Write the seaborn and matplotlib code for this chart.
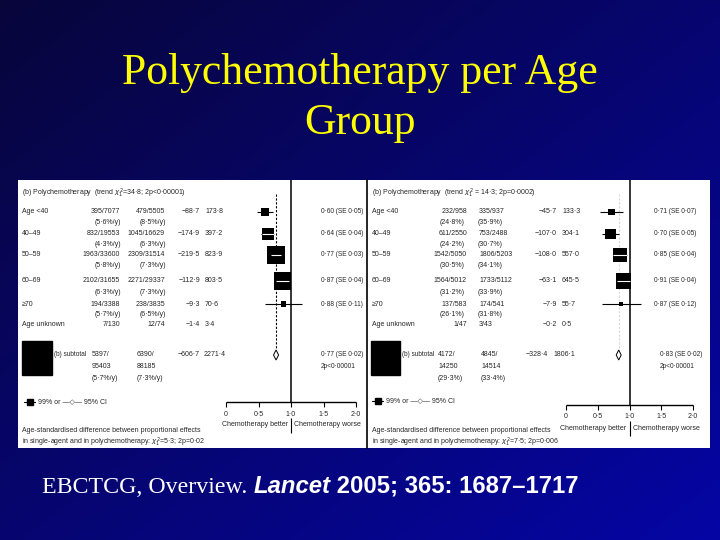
import numpy as np
import matplotlib
matplotlib.use("Agg")
import matplotlib.pyplot as plt
import matplotlib.transforms as mtrans
from matplotlib.patches import Rectangle
import seaborn as sns

sns.set_style("white")
plt.rcParams["font.family"] = ["Liberation Sans", "DejaVu Sans"]

# ---- data ----
groups = ["Age <40", "40–49", "50–59", "60–69", "≥70", "Age unknown"]

# (left) recurrence
rec_header = r"(b) Polychemotherapy  (trend $\chi^2_1$=34·8; 2p<0·00001)"
rec_treat = ["395/7077", "832/19553", "1963/33600", "2102/31655", "194/3388", "7/130"]
rec_treat_rate = ["(5·6%/y)", "(4·3%/y)", "(5·8%/y)", "(6·3%/y)", "(5·7%/y)", ""]
rec_ctrl = ["479/5505", "1045/16629", "2309/31514", "2271/29337", "238/3835", "12/74"]
rec_ctrl_rate = ["(8·5%/y)", "(6·3%/y)", "(7·3%/y)", "(7·3%/y)", "(6·5%/y)", ""]
rec_oe = ["−88·7", "−174·9", "−219·5", "−112·9", "−9·3", "−1·4"]
rec_var = [173.8, 397.2, 823.9, 803.5, 70.6, 3.4]
rec_ratio = [0.60, 0.64, 0.77, 0.87, 0.88]
rec_se = [0.05, 0.04, 0.03, 0.04, 0.11]
rec_sub = ["5397/", "95403", "(5·7%/y)", "6390/", "88185", "(7·3%/y)", "−606·7", "2271·4"]
rec_sub_ratio, rec_sub_se = 0.77, 0.02
rec_sub_p = "2p<0·00001"
rec_foot = r"in single-agent and in polychemotherapy: $\chi^2_1$=5·3; 2p=0·02"

# (right) breast cancer mortality
mort_header = r"(b) Polychemotherapy  (trend $\chi^2_1$ = 14·3; 2p=0·0002)"
mort_treat = ["232/958", "611/2550", "1542/5050", "1564/5012", "137/583", "1/47"]
mort_treat_rate = ["(24·8%)", "(24·2%)", "(30·5%)", "(31·2%)", "(26·1%)", ""]
mort_ctrl = ["335/937", "753/2488", "1806/5203", "1733/5112", "174/541", "3/43"]
mort_ctrl_rate = ["(35·9%)", "(30·7%)", "(34·1%)", "(33·9%)", "(31·8%)", ""]
mort_oe = ["−45·7", "−107·0", "−108·0", "−63·1", "−7·9", "−0·2"]
mort_var = [133.3, 304.1, 557.0, 645.5, 55.7, 0.5]
mort_ratio = [0.71, 0.70, 0.85, 0.91, 0.87]
mort_se = [0.07, 0.05, 0.04, 0.04, 0.12]
mort_sub = ["4172/", "14250", "(29·3%)", "4845/", "14514", "(33·4%)", "−328·4", "1806·1"]
mort_sub_ratio, mort_sub_se = 0.83, 0.02
mort_sub_p = "2p<0·00001"
mort_foot = r"in single-agent and in polychemotherapy: $\chi^2_1$=7·5; 2p=0·006"

ticks = [0, 0.5, 1.0, 1.5, 2.0]
tick_labels = ["0", "0·5", "1·0", "1·5", "2·0"]

W, H = 720, 540
fig = plt.figure(figsize=(7.2, 5.4), dpi=100)

# slide background: diagonal navy -> blue gradient
bg = fig.add_axes([0, 0, 1, 1])
yy, xx = np.mgrid[0:1:270j, 0:1:360j]
t = (xx + yy) / 2
img = np.dstack([(8 - 3 * t) / 255, (6 - 1 * t) / 255, (58 + 107 * t) / 255])
bg.imshow(img, extent=[0, 1, 0, 1], aspect="auto", origin="upper")
bg.set_axis_off()

fig.text(0.5, 1 - 98 / H, "Polychemotherapy per Age\nGroup", ha="center", va="center",
         fontsize=31.5, family="Liberation Serif", color="#ffff00", linespacing=1.34)

row_y = [32, 54, 75, 101, 124, 145]
sub_y = 175
FS = 5.0


def draw_panel(rect, zero_px, one_px, cols, d, dash_color, left_border):
    l, tp, r, b = rect
    ax = fig.add_axes([l / W, 1 - b / H, (r - l) / W, (b - tp) / H])
    scale = one_px - zero_px
    n = len(d["ratio"])
    ys = row_y[:n]
    sizes_s = [0.1866 * v for v in d["var"][:n]]

    # CI lines (99%)
    lo = [e - 2.576 * s for e, s in zip(d["ratio"], d["se"])]
    hi = [e + 2.576 * s for e, s in zip(d["ratio"], d["se"])]
    ax.hlines(ys, lo, hi, color="black", lw=0.8, zorder=2)
    sns.scatterplot(x=d["ratio"], y=ys, size=d["var"][:n], sizes=(0, 186.6),
                    size_norm=(0, 1000), marker="s", color="black", linewidth=0,
                    legend=False, ax=ax, zorder=3)
    for e, y, s, a, c in zip(d["ratio"], ys, sizes_s, lo, hi):
        half = np.sqrt(s) * 100 / 72 / 2 / scale
        if (c - e) < 1.2 * half:
            ax.hlines(y, max(a, e - half), min(c, e + half), color="white", lw=0.8, zorder=4)

    # subtotal diamond (95% CI)
    e, s = d["sub_ratio"], d["sub_se"]
    dl, dh = e - 1.96 * s, e + 1.96 * s
    ax.fill([dl, e, dh, e], [sub_y, sub_y - 5, sub_y, sub_y + 5], facecolor="white",
            edgecolor="black", lw=0.7, zorder=4)

    axis_y = cols["axis_y"]
    ax.vlines(1.0, 0, axis_y, color="black", lw=1.1, zorder=1)
    ax.vlines(e, 14, sub_y - 5, color=dash_color, lw=0.8, linestyles=(0, (2, 1.5)), zorder=1)
    ax.hlines(axis_y, 0, 2, color="black", lw=1.0)
    ax.vlines(ticks, axis_y, axis_y + 5, color="black", lw=0.8)

    ax.set_xlim((l - zero_px) / scale, (r - zero_px) / scale)
    ax.set_ylim(b - tp, 0)
    ax.set_xticks([])
    ax.set_yticks([])
    ax.set_xlabel("")
    ax.set_ylabel("")
    ax.set_facecolor("white")
    for k, sp in ax.spines.items():
        sp.set_visible(False)
    if left_border:
        ax.spines["left"].set_visible(True)
        ax.spines["left"].set_color("black")
        ax.spines["left"].set_linewidth(1.2)

    tr = mtrans.blended_transform_factory(ax.transAxes, ax.transData)

    def tx(px, y, s, ha="left", fs=FS, **kw):
        ax.text((px - l) / (r - l), y, s, transform=tr, ha=ha, va="center",
                fontsize=fs, **kw)

    tx(cols["label"], 13, d["header"])
    for i, g in enumerate(groups):
        y = row_y[i]
        tx(cols["label"], y, g)
        tx(cols["c1"], y, d["treat"][i], ha="right")
        tx(cols["c1b"], y + 11, d["treat_rate"][i])
        if cols["c2_right"]:
            tx(cols["c2"], y, d["ctrl"][i], ha="right")
        else:
            tx(cols["c2"], y, d["ctrl"][i])
        tx(cols["c2b"], y + 11, d["ctrl_rate"][i])
        tx(cols["c3"], y, d["oe"][i], ha="right")
        tx(cols["c4"], y, f"{d['var'][i]:.1f}".replace(".", "·"))
        if i < n:
            tx(cols["res"], y, f"{d['ratio'][i]:.2f} (SE {d['se'][i]:.2f})".replace(".", "·"),
               fs=4.7)

    sub = d["sub"]
    tx(cols["sub_label"], sub_y, "(b) subtotal", fs=4.7)
    tx(cols["s1"], sub_y, sub[0])
    tx(cols["s1"], sub_y + 12, sub[1])
    tx(cols["s1"], sub_y + 24, sub[2])
    tx(cols["s2"], sub_y, sub[3])
    tx(cols["s2"], sub_y + 12, sub[4])
    tx(cols["s2"], sub_y + 24, sub[5])
    tx(cols["s3"], sub_y, sub[6], ha="right")
    tx(cols["s4"], sub_y, sub[7])
    tx(cols["sres"], sub_y, f"{e:.2f} (SE {s:.2f})".replace(".", "·"), fs=4.7)
    tx(cols["sres"], sub_y + 11, d["sub_p"], fs=4.7)

    # big subtotal box drawn left of the label
    bx = cols["bigbox"]
    ax.add_patch(Rectangle(((bx[0] - l) / (r - l), bx[1]), (bx[2] - bx[0]) / (r - l),
                           bx[3] - bx[1], transform=tr, color="black", zorder=3))

    # legend
    ly = cols["leg_y"]
    lx0 = (cols["leg"] - l) / (r - l)
    ax.plot([lx0, lx0 + 11 / (r - l)], [ly, ly], transform=tr, color="black", lw=0.8)
    ax.plot([lx0 + 5.5 / (r - l)], [ly], transform=tr, marker="s", ms=4.2, color="black")
    tx(cols["leg"] + 14, ly, "99% or —◇— 95% CI")

    for v, lab in zip(ticks, tick_labels):
        ax.text(v, axis_y + 12, lab, ha="center", va="center", fontsize=FS)
    ax.text(1.0 - 0.05, axis_y + 23, "Chemotherapy better", ha="right", va="center", fontsize=FS)
    ax.text(1.0 + 0.05, axis_y + 23, "Chemotherapy worse", ha="left", va="center", fontsize=FS)
    ax.vlines(1.0, axis_y + 16, axis_y + 31, color="black", lw=0.8)

    tx(cols["label"], 251, "Age-standardised difference between proportional effects")
    tx(cols["label"], 262, d["foot"])
    return ax


rec = dict(header=rec_header, treat=rec_treat, treat_rate=rec_treat_rate, ctrl=rec_ctrl,
           ctrl_rate=rec_ctrl_rate, oe=rec_oe, var=rec_var, ratio=rec_ratio, se=rec_se,
           sub=rec_sub, sub_ratio=rec_sub_ratio, sub_se=rec_sub_se, sub_p=rec_sub_p,
           foot=rec_foot)
mort = dict(header=mort_header, treat=mort_treat, treat_rate=mort_treat_rate, ctrl=mort_ctrl,
            ctrl_rate=mort_ctrl_rate, oe=mort_oe, var=mort_var, ratio=mort_ratio, se=mort_se,
            sub=mort_sub, sub_ratio=mort_sub_ratio, sub_se=mort_sub_se, sub_p=mort_sub_p,
            foot=mort_foot)

left_cols = dict(label=22, c1=120, c1b=95, c2=165, c2b=140, c2_right=True, c3=200, c4=205,
                 res=321, sub_label=54, s1=92, s2=137, s3=200, s4=204, sres=321,
                 bigbox=(22, 161, 52, 195), leg=24, leg_y=222, axis_y=222)
right_cols = dict(label=372, c1=467, c1b=440, c2=479, c2b=478, c2_right=False, c3=557, c4=562,
                  res=654, sub_label=402, s1=438, s2=481, s3=548, s4=553, sres=660,
                  bigbox=(371, 161, 400, 195), leg=372, leg_y=221, axis_y=225)

draw_panel((18, 180, 367, 448), 226, 291, left_cols, rec, "black", False)
draw_panel((367, 180, 710, 448), 566, 629.5, right_cols, mort, "#d8d8d8", True)

# citation line with mixed fonts
cy = 1 - 493 / H
fig.canvas.draw()
rend = fig.canvas.get_renderer()
x = 42 / W
parts = [("EBCTCG, Overview. ", dict(family="Liberation Serif")),
         ("Lancet", dict(family="Liberation Sans", weight="bold", style="italic")),
         (" 2005; 365: 1687–1717", dict(family="Liberation Sans", weight="bold"))]
for s, kw in parts:
    tt = fig.text(x, cy, s, color="white", fontsize=17.2, va="baseline", ha="left", **kw)
    bb = tt.get_window_extent(renderer=rend)
    x = bb.x1 / W

fig.savefig("out.png", dpi=100)
